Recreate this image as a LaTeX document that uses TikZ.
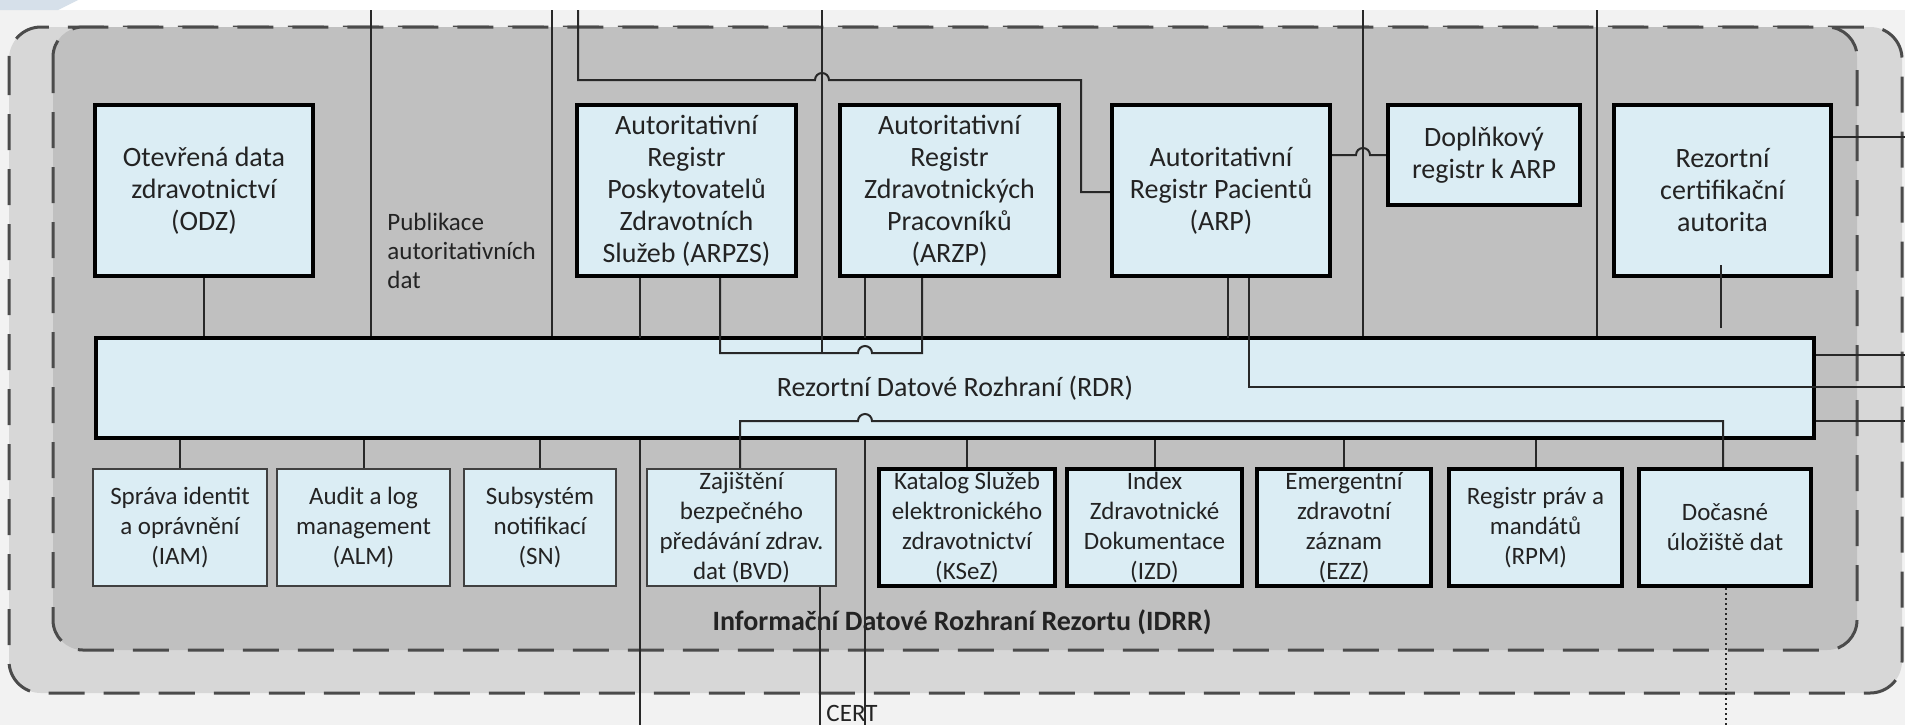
\documentclass[tikz,border=0pt]{standalone}
\usepackage{fontspec}
\setmainfont{Carlito}
\definecolor{bgc}{RGB}{242,242,242}
\definecolor{midc}{RGB}{215,215,215}
\definecolor{innc}{RGB}{192,192,192}
\definecolor{boxc}{RGB}{219,237,244}
\definecolor{dashc}{RGB}{75,75,75}
\definecolor{linec}{RGB}{40,40,40}
\definecolor{txt}{RGB}{35,35,35}
\definecolor{artc}{RGB}{214,224,234}
\begin{document}
\begin{tikzpicture}[x=0.5pt,y=-0.5pt,
  bigbox/.style={draw=black, line width=2.2pt, fill=boxc, inner sep=0pt, align=center, text=txt,
     font=\fontsize{14}{16}\selectfont},
  smallbox/.style={draw=black, line width=2.2pt, fill=boxc, inner sep=0pt, align=center, text=txt,
     font=\fontsize{12.5}{15}\selectfont, minimum height=58.5pt},
  thinbox/.style={smallbox, line width=1pt, draw=black!75},
  conn/.style={draw=linec, line width=1pt},
  dotconn/.style={draw=linec, line width=1pt, dash pattern=on 1pt off 1.5pt},
  zone/.style={draw=dashc, line width=1.5pt, dash pattern=on 18pt off 9.5pt},
  lbl/.style={inner sep=0pt, text=txt, font=\fontsize{12.5}{14.5}\selectfont}
]
\useasboundingbox (0,0) rectangle (1905,725);
% background
\fill[bgc] (0,0) rectangle (1905,725);
\fill[white] (0,0) rectangle (1905,10);
\fill[artc] (0,0) -- (78,0) -- (58,10) -- (0,10) -- cycle;
% zones
\draw[zone, fill=midc, rounded corners=16pt] (9,27) rectangle (1902,693);
\draw[zone, fill=innc, rounded corners=15pt] (53,27) rectangle (1857,650);

% top row boxes
\node[bigbox, minimum width=109pt, minimum height=85.5pt] (odz) at (204,190.5)
  {Otevřená data\\zdravotnictví\\(ODZ)};
\node[bigbox, minimum width=109.5pt, minimum height=85.5pt] (arpzs) at (686.5,190.5)
  {Autoritativní\\Registr\\Poskytovatelů\\Zdravotních\\Služeb (ARPZS)};
\node[bigbox, minimum width=109.5pt, minimum height=85.5pt] (arzp) at (949.5,190.5)
  {Autoritativní\\Registr\\Zdravotnických\\Pracovníků\\(ARZP)};
\node[bigbox, minimum width=109pt, minimum height=85.5pt] (arp) at (1221,190.5)
  {Autoritativní\\Registr Pacientů\\(ARP)};
\node[bigbox, minimum width=96pt, minimum height=50pt] (dopl) at (1484,155)
  {Doplňkový\\registr k ARP};
\node[bigbox, minimum width=108.5pt, minimum height=85.5pt] (ca) at (1722.5,190.5)
  {Rezortní\\certifikační\\autorita};

% RDR
\node[bigbox, minimum width=859pt, minimum height=50pt] (rdr) at (955,388)
  {Rezortní Datové Rozhraní (RDR)};

% bottom row boxes
\node[thinbox, minimum width=87pt] (iam) at (180,527.5) {Správa identit\\a oprávnění\\(IAM)};
\node[thinbox, minimum width=86.5pt] (alm) at (363.5,527.5) {Audit a log\\management\\(ALM)};
\node[thinbox, minimum width=76pt] (sn) at (540,527.5) {Subsystém\\notifikací\\(SN)};
\node[thinbox, minimum width=94.5pt] (bvd) at (741.5,527.5) {Zajištění\\bezpečného\\předávání zdrav.\\dat (BVD)};
\node[smallbox, minimum width=88pt] (ksez) at (967,527.5) {Katalog Služeb\\elektronického\\zdravotnictví\\(KSeZ)};
\node[smallbox, minimum width=87.5pt] (izd) at (1154.5,527.5) {Index\\Zdravotnické\\Dokumentace\\(IZD)};
\node[smallbox, minimum width=87pt] (ezz) at (1344,527.5) {Emergentní\\zdravotní\\záznam\\(EZZ)};
\node[smallbox, minimum width=86.5pt] (rpm) at (1535.5,527.5) {Registr práv a\\mandátů\\(RPM)};
\node[smallbox, minimum width=86pt] (doc) at (1725,527.5) {Dočasné\\úložiště dat};

% labels
\node[lbl, anchor=west, align=left] (pub) at (387,251) {Publikace\\autoritativních\\dat};
\node[inner sep=0pt, text=txt, font=\bfseries\fontsize{14}{16}\selectfont] (idrr) at (962,622)
  {Informační Datové Rozhraní Rezortu (IDRR)};
\node[lbl] (cert) at (852,713) {CERT};

% free ends
\coordinate (t371) at (371,10);
\coordinate (t552) at (552,10);
\coordinate (t578) at (578,10);
\coordinate (t822) at (822,10);
\coordinate (t1363) at (1363,10);
\coordinate (t1597) at (1597,10);
\coordinate (r137) at (1905,137);
\coordinate (r355) at (1905,355);
\coordinate (r387) at (1905,387);
\coordinate (r421) at (1905,421);
\coordinate (b640) at (640,725);
\coordinate (b820) at (820,725);
\coordinate (b865) at (865,725);
\coordinate (b1726) at (1726,725);

% connectors from top
\draw[conn] (t371) -- (t371 |- rdr.north);
\draw[conn] (t552) -- (t552 |- rdr.north);
\draw[conn] (t1363) -- (t1363 |- rdr.north);
\draw[conn] (t1597) -- (t1597 |- rdr.north);
\draw[conn] (t822) -- (822,353);
\draw[conn] (t578) -- (578,80) -- (815,80) arc[start angle=180,end angle=0,radius=3.5pt]
  -- (1081,80) -- (1081,192) -- (arp.west |- 1081,192);

% top boxes to RDR
\draw[conn] (odz.south) -- (odz.south |- rdr.north);
\draw[conn] (arpzs.south -| 640,0) -- (640,338);
\draw[conn] (arpzs.south -| 720,0) -- (720,353) -- (858,353) arc[start angle=180,end angle=0,radius=3.5pt]
  -- (922,353) -- (arzp.south -| 922,0);
\draw[conn] (arzp.south -| 865,0) -- (865,338);
\draw[conn] (arp.south -| 1228,0) -- (1228,338);
\draw[conn] (arp.south -| 1249,0) -- (1249,387) -- (r387);
\draw[conn] (arp.east |- dopl.west) -- (1356,155) arc[start angle=180,end angle=0,radius=3.5pt] -- (dopl.west);
\draw[conn] (ca.east |- r137) -- (r137);
\draw[conn] (1721,265) -- (1721,328);
\draw[conn] (rdr.east |- r355) -- (r355);
\draw[conn] (rdr.east |- r421) -- (r421);

% bottom boxes
\foreach \n in {iam,alm,sn,ksez,izd,ezz,rpm}
  \draw[conn] (\n.north) -- (\n.north |- rdr.south);
\draw[conn] (bvd.north -| 740,0) -- (740,421) -- (858,421) arc[start angle=180,end angle=0,radius=3.5pt]
  -- (1723,421) -- (doc.north -| 1723,0);
\draw[conn] (rdr.south -| b640) -- (b640);
\draw[conn] (bvd.south -| b820) -- (b820);
\draw[conn] (rdr.south -| b865) -- (b865);
\draw[dotconn] (doc.south -| b1726) -- (b1726);
\end{tikzpicture}
\end{document}
